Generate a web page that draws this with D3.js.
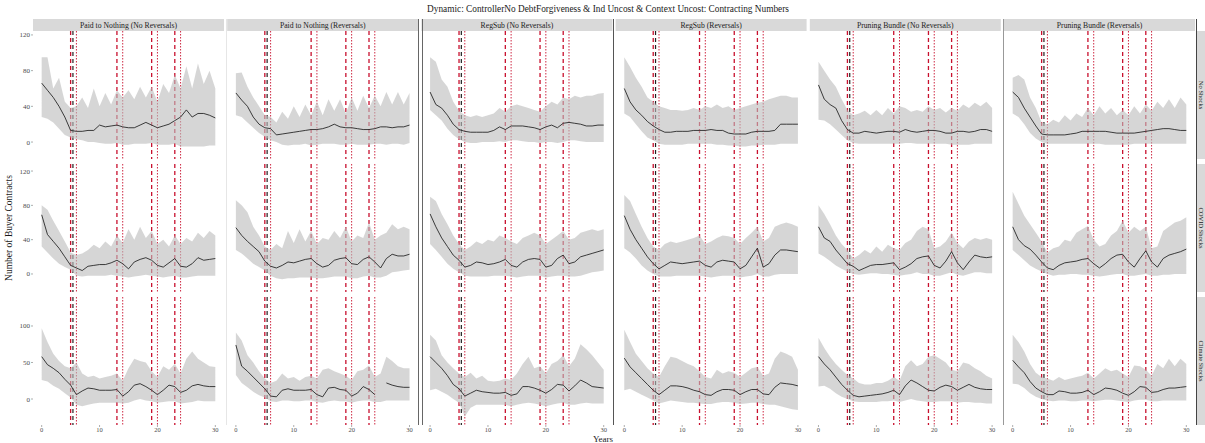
<!DOCTYPE html>
<html>
<head>
<meta charset="utf-8">
<script src="https://cdn.jsdelivr.net/npm/d3@7"></script>
<style>
  body { margin: 0; background: #fff; }
  text { font-family: "Liberation Serif", "DejaVu Serif", serif; }
</style>
</head>
<body>
<div id="chart"></div>
<script>
// ---- data ----
const years = [0,1,2,3,4,5,6,7,8,9,10,11,12,13,14,15,16,17,18,19,20,21,22,23,24,25,26,27,28,29,30];
const columns = ["Paid to Nothing (No Reversals)", "Paid to Nothing (Reversals)", "RegSub (No Reversals)",
                 "RegSub (Reversals)", "Pruning Bundle (No Reversals)", "Pruning Bundle (Reversals)"];
const rows = ["No Shocks", "COVID Shocks", "Climate Shocks"];
const yTicks = [[0, 40, 80, 120], [0, 40, 80, 120], [0, 50, 100]];
const yDomains = [[-19, 124.4], [-21, 128.2], [-35.6, 139.7]];
const xTicks = [0, 10, 20, 30];

// vertical reference years
const shockStarts = [5, 13, 19, 23];
const shockEnds = [6, 14, 20, 24];
const controllerYears = [5.4];

// No Shocks row
const noShockMean = [
  [66,58,50,40,28,13,12,12,13,13,19,17,18,19,17,16,16,19,22,19,16,18,20,24,28,36,28,32,32,30,27],
  [55,47,40,28,20,16,15,8,9,10,11,12,13,14,14,15,17,20,17,16,16,15,14,14,15,17,17,16,17,17,19],
  [56,42,38,30,20,14,12,11,11,11,11,13,17,14,18,18,18,17,16,14,17,19,16,21,22,21,20,18,18,19,19],
  [60,45,36,30,23,18,14,11,11,12,12,12,13,13,13,14,13,13,10,9,9,9,11,12,12,12,13,20,20,20,20],
  [64,48,42,38,24,14,10,10,12,11,10,11,12,12,11,14,12,11,12,13,13,12,10,10,12,12,11,12,14,14,12],
  [56,50,38,28,18,9,8,8,8,8,9,10,12,12,12,12,12,11,10,10,10,10,11,12,13,14,15,15,14,13,13]
];
const noShockUpper = [
  [95,95,60,72,45,38,40,50,38,60,40,55,42,58,50,58,48,62,50,62,45,65,55,75,60,85,60,88,65,80,60],
  [77,78,62,50,40,30,28,22,34,26,40,28,42,30,45,30,48,35,48,32,50,35,52,38,52,40,56,42,56,42,55],
  [95,90,70,62,45,35,30,28,30,28,30,32,38,34,40,42,40,38,36,34,40,45,42,50,48,52,50,52,52,54,55],
  [95,84,72,62,50,45,40,38,36,36,35,36,38,36,40,38,42,38,40,36,38,40,42,44,45,48,50,52,52,50,50],
  [90,80,70,62,48,36,30,32,35,30,36,30,38,32,40,38,34,36,34,40,36,38,33,38,35,42,38,44,40,45,38],
  [72,75,70,50,38,22,20,25,22,30,24,32,28,38,30,40,32,38,30,36,30,40,32,42,35,45,38,48,38,50,42]
];
const noShockLower = [
  [28,26,22,15,8,5,3,2,0,0,-1,-2,-2,-1,-3,-3,-2,-2,-2,-1,-3,-3,-3,-2,-5,-5,-5,-5,-5,-4,-4],
  [30,28,22,16,10,6,2,0,-3,-4,-3,-3,-2,-4,-3,-2,-2,-2,-3,-3,-2,-3,-3,-3,-2,-2,-3,-2,-2,-3,-1],
  [36,30,24,15,8,3,0,-1,-1,0,0,0,1,0,2,2,1,0,0,-1,0,0,-1,0,2,2,1,0,0,0,0],
  [32,28,20,12,5,2,-2,-3,-3,-3,-3,-2,-2,-2,-2,-2,-3,-3,-4,-4,-5,-5,-4,-4,-3,-3,-3,-2,-2,-2,-2],
  [25,24,20,14,8,2,-1,-2,-2,-2,-2,-2,-2,-2,-2,-1,-1,-2,-2,-2,-2,-2,-2,-3,-3,-3,-3,-2,-2,-2,-2],
  [32,28,20,10,4,0,-2,-2,-2,-2,-2,-2,-2,-2,-2,-2,-3,-3,-3,-3,-3,-2,-2,-2,-2,-2,-2,-2,-2,-2,-2]
];

// COVID Shocks row
const covidMean = [
  [69,46,38,30,20,10,7,4,9,10,11,11,13,16,12,6,14,17,19,16,10,8,13,18,9,8,12,19,16,17,18],
  [54,45,38,32,26,15,9,7,10,14,13,15,17,18,12,8,10,16,18,19,12,11,17,20,14,7,18,23,21,21,23],
  [70,55,42,32,22,16,8,10,14,13,11,12,14,17,10,8,14,17,18,17,8,10,18,22,12,14,20,22,24,26,28],
  [68,52,40,30,20,12,6,10,14,13,12,13,14,15,10,8,14,16,15,14,6,10,20,30,8,12,22,28,28,27,26],
  [55,42,38,28,20,12,9,4,7,10,11,11,12,13,5,8,12,18,20,21,10,7,15,26,13,5,14,22,20,19,20],
  [55,40,33,29,22,14,7,5,10,13,14,15,17,18,12,7,12,18,22,23,14,8,18,27,14,8,18,22,24,26,29]
];
const covidUpper = [
  [80,75,62,50,38,25,22,24,28,34,30,38,32,45,36,52,40,55,42,50,35,40,32,45,35,42,38,48,42,50,45],
  [86,80,72,55,45,32,28,35,30,50,36,52,38,50,35,42,40,50,42,55,38,45,42,60,40,45,48,58,52,55,52],
  [90,85,70,58,45,35,28,32,38,35,40,38,45,42,38,35,42,45,48,45,35,40,45,50,40,42,48,50,52,50,52],
  [92,85,70,55,42,32,28,35,38,36,38,40,42,45,35,38,42,45,44,42,35,42,48,55,38,42,55,58,60,58,55],
  [80,70,58,45,35,28,18,22,28,24,32,26,34,30,28,36,40,50,55,52,30,32,38,48,36,30,38,42,40,42,40],
  [96,82,68,58,48,38,25,30,32,40,38,48,52,56,40,32,35,45,50,62,48,55,50,55,30,32,50,55,60,62,66]
];
const covidLower = [
  [32,25,18,12,8,5,-2,-3,-2,-2,-2,-2,-1,-2,-3,-4,-3,-2,-1,-2,-3,-4,-3,-2,-4,-4,-3,-2,-2,-2,-2],
  [28,24,18,12,8,4,-2,-5,-6,-5,-5,-4,-4,-4,-5,-5,-4,-3,-3,-3,-5,-5,-3,-2,-4,-4,-2,2,3,4,5],
  [35,28,20,12,6,2,-2,-3,-3,-3,-3,-2,-2,-2,-3,-4,-3,-2,-2,-2,-4,-3,-2,-2,-3,-3,-2,0,2,3,4],
  [30,25,18,10,4,0,-3,-3,-3,-2,-2,-2,-2,-2,-3,-4,-3,-2,-2,-2,-4,-3,-2,0,-3,-3,-1,0,0,0,0],
  [24,20,15,10,6,3,0,-1,0,1,1,0,0,-1,-2,-1,0,2,0,0,-2,-2,0,2,-1,-2,0,2,2,1,1],
  [28,22,16,10,6,3,0,-2,-1,-1,0,0,-1,-1,-2,-3,-2,-1,0,0,-2,-2,-1,0,-2,-2,-1,-1,0,0,0]
];

// Climate Shocks row
const climateMean = [
  [58,47,42,36,27,19,6,11,15,14,12,12,12,13,4,10,19,21,17,12,6,12,19,17,9,12,18,20,18,17,17],
  [74,45,38,30,22,14,4,3,12,14,12,12,12,13,6,3,15,16,13,12,4,8,17,13,6,null,22,19,17,16,16],
  [58,50,42,32,20,14,4,8,12,10,9,8,8,9,5,7,17,17,15,12,8,13,20,19,11,18,26,22,17,16,15],
  [56,44,36,28,20,12,6,12,18,18,17,15,12,10,6,5,10,13,13,12,6,10,13,13,7,6,16,22,21,20,18],
  [58,48,40,30,20,12,5,3,4,5,6,7,9,12,6,18,26,22,17,12,11,16,19,17,12,16,20,16,14,13,13],
  [53,44,36,24,15,10,6,6,11,10,8,8,9,12,6,10,15,14,12,8,5,10,17,16,9,10,13,15,15,16,17]
];
const climateUpper = [
  [97,78,62,52,45,42,50,35,30,32,28,30,32,35,25,42,55,52,50,38,30,45,40,48,35,55,65,55,50,45,44],
  [91,80,60,50,38,28,22,25,35,28,30,25,30,32,28,40,42,38,35,32,26,38,40,46,30,35,58,52,45,42,42],
  [88,80,60,50,42,35,30,36,28,32,25,24,25,28,26,35,48,58,42,45,35,48,52,60,45,55,75,68,60,50,40],
  [95,78,62,52,42,35,30,45,58,56,52,48,45,38,30,28,40,35,38,36,30,36,42,44,32,35,55,65,62,58,40],
  [84,70,58,48,40,33,28,22,20,20,22,22,25,30,25,45,53,45,48,58,60,55,50,40,38,50,48,42,38,32,28],
  [88,78,65,48,36,30,28,25,30,26,28,30,32,36,28,35,42,38,40,35,30,46,45,40,32,48,42,55,45,55,48]
];
const climateLower = [
  [26,24,18,14,8,2,-8,-10,-8,-6,-5,-5,-5,-5,-6,-5,-2,0,-2,-3,-5,-4,-3,-3,-6,-5,-4,-2,-3,-3,-3],
  [33,22,16,10,5,2,-3,-4,-2,-2,-3,-3,-2,-2,-4,-5,-3,-2,-3,-3,-5,-3,-2,-2,-4,-4,-2,-2,-2,-2,-2],
  [12,14,10,6,0,-5,-24,-12,-8,-8,-8,-8,-8,-8,-10,-8,-6,-5,-6,-8,-10,-8,-6,-5,-8,-8,-6,-5,-6,-6,-6],
  [12,14,10,6,2,-2,-6,-4,-2,-3,-4,-5,-5,-6,-7,-7,-5,-4,-4,-5,-7,-6,-5,-5,-7,-8,-8,-10,-12,-14,-15],
  [17,18,14,8,3,0,-3,-4,-4,-4,-4,-3,-3,-2,-4,-2,0,-2,-3,-4,-4,-3,-3,-3,-5,-4,-4,-5,-5,-6,-6],
  [21,20,15,8,3,0,-2,-3,-2,-2,-3,-3,-2,-2,-3,-2,-1,-1,-2,-3,-4,-2,-1,-1,-3,-3,-2,-2,-2,-2,-2]
];

const rowMeans = [noShockMean, covidMean, climateMean];
const rowUppers = [noShockUpper, covidUpper, climateUpper];
const rowLowers = [noShockLower, covidLower, climateLower];

// ---- layout ----
const W = 1205, H = 443;
const left0 = 33, top0 = 31;
const panelW = 191, panelH = 128;
const stepX = 194.2, stepY = 133;
const red = "#c8102e";

const svg = d3.select("#chart").append("svg")
  .attr("width", W).attr("height", H);

svg.append("text")
  .attr("x", 608).attr("y", 12)
  .attr("text-anchor", "middle")
  .style("font-size", "9.3px").style("fill", "#1a1a1a")
  .text("Dynamic: ControllerNo DebtForgiveness & Ind Uncost & Context Uncost: Contracting Numbers");

// column strips
columns.forEach((c, j) => {
  const x0 = left0 + j * stepX;
  svg.append("rect").attr("x", x0).attr("y", 19).attr("width", panelW).attr("height", 12).attr("fill", "#d9d9d9");
  svg.append("text").attr("x", x0 + panelW / 2).attr("y", 28)
    .attr("text-anchor", "middle").style("font-size", "7.7px").style("fill", "#1a1a1a").text(c);
});

// row strips (cut by the right edge in the figure)
rows.forEach((r, i) => {
  const y0 = top0 + i * stepY;
  svg.append("rect").attr("x", 1197).attr("y", y0).attr("width", 16).attr("height", panelH).attr("fill", "#d9d9d9");
  svg.append("text").attr("transform", `translate(${1198.5}, ${y0 + panelH / 2}) rotate(90)`)
    .attr("text-anchor", "middle").style("font-size", "6.5px").style("fill", "#1a1a1a").text(r);
});

rows.forEach((r, i) => {
  const py = top0 + i * stepY;
  const y = d3.scaleLinear().domain(yDomains[i]).range([py + panelH, py]);

  columns.forEach((c, j) => {
    const px = left0 + j * stepX;
    const x = d3.scaleLinear().domain([-1.5, 31.5]).range([px, px + panelW]);
    const g = svg.append("g");

    // reference lines
    shockStarts.forEach(v => {
      g.append("line").attr("x1", x(v)).attr("x2", x(v)).attr("y1", py).attr("y2", py + panelH)
        .attr("stroke", red).attr("stroke-width", 1.3).attr("stroke-dasharray", "4,3");
    });
    controllerYears.forEach(v => {
      g.append("line").attr("x1", x(v)).attr("x2", x(v)).attr("y1", py).attr("y2", py + panelH)
        .attr("stroke", "#222").attr("stroke-width", 1.2).attr("stroke-dasharray", "4,3");
    });
    shockEnds.forEach(v => {
      g.append("line").attr("x1", x(v)).attr("x2", x(v)).attr("y1", py).attr("y2", py + panelH)
        .attr("stroke", red).attr("stroke-width", 0.9).attr("stroke-dasharray", "1.5,1.5");
    });

    const pts = years.map((yr, k) => ({
      yr, m: rowMeans[i][j][k], lo: rowLowers[i][j][k], hi: rowUppers[i][j][k]
    }));

    g.append("path").datum(pts)
      .attr("fill", "#bdbdbd").attr("fill-opacity", 0.62)
      .attr("d", d3.area().x(d => x(d.yr)).y0(d => y(d.lo)).y1(d => y(d.hi)));

    g.append("path").datum(pts)
      .attr("fill", "none").attr("stroke", "#111").attr("stroke-width", 0.8)
      .attr("d", d3.line().defined(d => d.m != null).x(d => x(d.yr)).y(d => y(d.m)));

    // x axis on bottom row
    if (i === rows.length - 1) {
      xTicks.forEach(t => {
        svg.append("line").attr("x1", x(t)).attr("x2", x(t)).attr("y1", py + panelH).attr("y2", py + panelH + 2)
          .attr("stroke", "#777").attr("stroke-width", 0.6);
        svg.append("text").attr("x", x(t)).attr("y", py + panelH + 6.5)
          .attr("text-anchor", "middle").style("font-size", "6.5px").style("fill", "#4d4d4d").text(t);
      });
    }
  });

  // y axis on left column
  yTicks[i].forEach(t => {
    svg.append("line").attr("x1", left0 - 2).attr("x2", left0).attr("y1", y(t)).attr("y2", y(t))
      .attr("stroke", "#777").attr("stroke-width", 0.6);
    svg.append("text").attr("x", left0 - 3).attr("y", y(t) + 2.5)
      .attr("text-anchor", "end").style("font-size", "7px").style("fill", "#4d4d4d").text(t);
  });
});

// odd panel separators seen in the figure
[[226.5, "#e6e6e6"], [418.5, "#666"], [422.5, "#666"], [613.5, "#555"], [1003.5, "#999"], [1196.5, "#444"]]
  .forEach(([xv, col]) => {
    svg.append("line").attr("x1", xv).attr("x2", xv).attr("y1", 19).attr("y2", 425)
      .attr("stroke", col).attr("stroke-width", 1);
  });

svg.append("text").attr("x", 603).attr("y", 442)
  .attr("text-anchor", "middle").style("font-size", "9px").style("fill", "#1a1a1a").text("Years");

svg.append("text").attr("transform", "translate(12, 228) rotate(-90)")
  .attr("text-anchor", "middle").style("font-size", "9.5px").style("fill", "#1a1a1a").text("Number of Buyer Contracts");
</script>
</body>
</html>
